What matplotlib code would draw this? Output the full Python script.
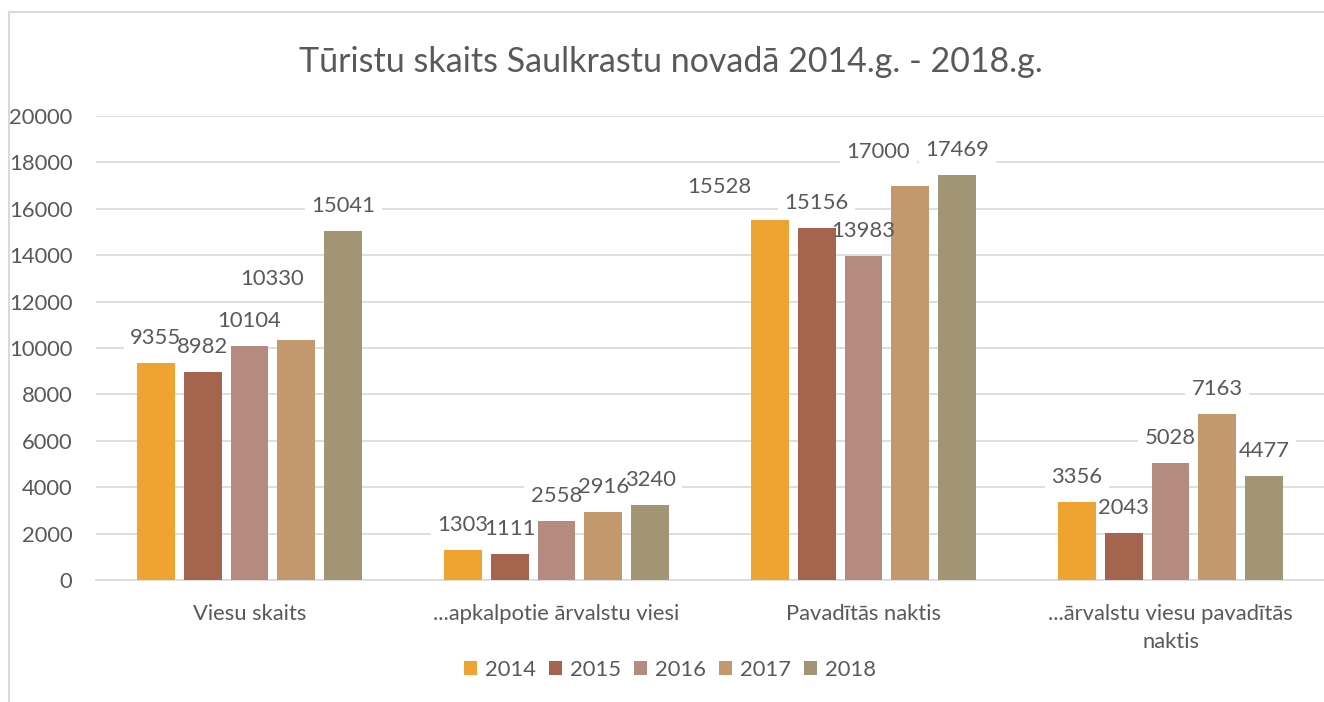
import numpy as np
import matplotlib.pyplot as plt
from matplotlib.lines import Line2D

# --- data --- #
categories = ['Viesu skaits', '...apkalpotie ārvalstu viesi', 'Pavadītās naktis',
              '...ārvalstu viesu pavadītās\nnaktis']
years = ['2014', '2015', '2016', '2017', '2018']
v2014 = [9355, 1303, 15528, 3356]
v2015 = [8982, 1111, 15156, 2043]
v2016 = [10104, 2558, 13983, 5028]
v2017 = [10330, 2916, 17000, 7163]
v2018 = [15041, 3240, 17469, 4477]
series = [v2014, v2015, v2016, v2017, v2018]

colors = ['#EFA330', '#A5644E', '#B58B80', '#C3986D', '#A19574']
# label nudges (px) mimicking Excel's label placement: [series][category]
nudge = [[(0, 0), (0, 0), (-50, -8), (0, 0)],
         [(0, 0), (0, 0), (0, 0), (0, 0)],
         [(0, 0), (0, 0), (0, 0), (0, 0)],
         [(-24, -36), (0, 0), (-32, -9), (0, 0)],
         [(0, 0), (0, 0), (0, 0), (0, 0)]]

plt.rcParams['font.family'] = ['Lato', 'DejaVu Sans']
txt = '#595959'
fs = 15.8

fig = plt.figure(figsize=(13.24, 7.02), dpi=100)
ax = fig.add_axes([96 / 1324, 1 - 580 / 702, 1 - 96 / 1324, (580 - 116) / 702])

x = np.arange(len(categories))
step, width = 0.1526, 0.123
for i, (vals, yr, c) in enumerate(zip(series, years, colors)):
    pos = x + (i - 2) * step
    ax.bar(pos, vals, width, color=c, label=yr, zorder=4)
    for j, (p, v) in enumerate(zip(pos, vals)):
        dx, dy = nudge[i][j]
        off = (dx * 0.72, 18 - dy * 0.72)
        # white box behind the label (breaks the gridlines), text on top
        ax.annotate(str(v), (p, v), xytext=off, textcoords='offset points',
                    ha='center', va='center', fontsize=fs, color='white', zorder=2.5,
                    bbox=dict(boxstyle='square,pad=0.3', fc='white', ec='none'))
        ax.annotate(str(v), (p, v), xytext=off, textcoords='offset points',
                    ha='center', va='center', fontsize=fs, color=txt, zorder=5)

ax.set_xlim(-0.5, 3.5)
ax.set_ylim(0, 20000)
ax.set_yticks(np.arange(0, 20001, 2000))
ax.set_xticks(x)
ax.set_xticklabels(categories, linespacing=1.5)
ax.tick_params(axis='both', length=0, labelsize=fs, labelcolor=txt)
ax.tick_params(axis='y', pad=17)
ax.tick_params(axis='x', pad=17)
ax.grid(axis='y', color='#D9D9D9', lw=1.2, zorder=0)
ax.set_axisbelow(True)
for s in ['left', 'right', 'top']:
    ax.spines[s].set_visible(False)
ax.spines['bottom'].set_color('#D9D9D9')
ax.spines['bottom'].set_linewidth(1.2)

fig.text(0.507, 1 - 62 / 702, 'Tūristu skaits Saulkrastu novadā 2014.g. - 2018.g.',
         ha='center', va='center', fontsize=24.5, color=txt)

fig.legend(loc='center', bbox_to_anchor=(0.506, 1 - 670 / 702), ncol=5, frameon=False,
           fontsize=fs, labelcolor=txt, handlelength=0.6, handleheight=0.6,
           handletextpad=0.35, columnspacing=0.6)

# chart frame (light grey) like the Excel chart border
fig.add_artist(Line2D([9 / 1324, 9 / 1324], [0, 1 - 12 / 702], color='#D9D9D9', lw=1.5))
fig.add_artist(Line2D([9 / 1324, 1], [1 - 12 / 702, 1 - 12 / 702], color='#D9D9D9', lw=1.5))

fig.savefig('out.png', dpi=100, facecolor='white')
